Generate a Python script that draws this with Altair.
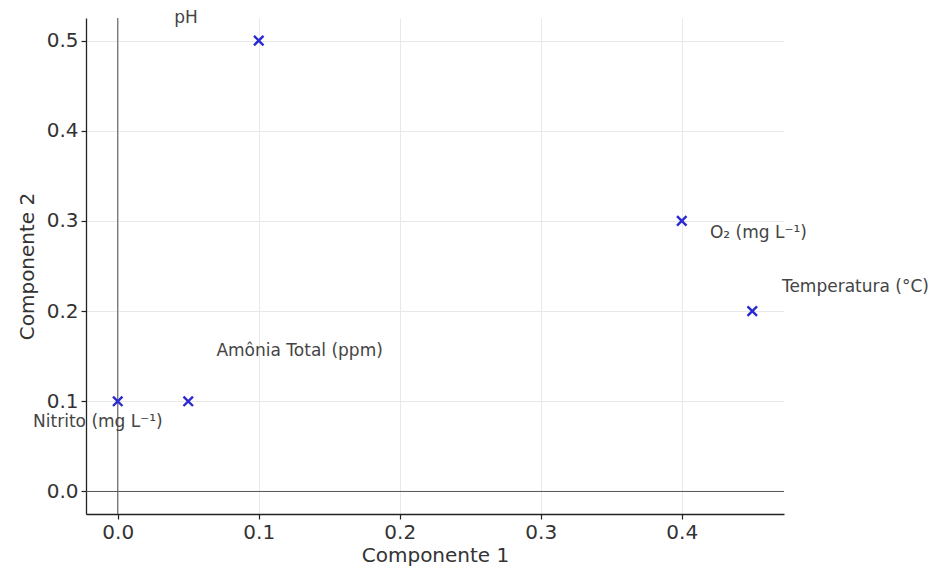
import altair as alt
import pandas as pd

variables = ["Temperatura (°C)", "O₂ (mg L⁻¹)", "pH", "Amônia Total (ppm)", "Nitrito (mg L⁻¹)"]
comp1 = [0.45, 0.40, 0.10, 0.05, 0.00]
comp2 = [0.20, 0.30, 0.50, 0.10, 0.10]
label_x = [0.471, 0.42, 0.040, 0.070, -0.060]
label_y = [0.227, 0.287, 0.5245, 0.156, 0.077]

x_ticks = [0.0, 0.1, 0.2, 0.3, 0.4]
y_ticks = [0.0, 0.1, 0.2, 0.3, 0.4, 0.5]
x_domain = [-0.0225, 0.4725]
y_domain = [-0.025, 0.525]
zero = [0.0]

df = pd.DataFrame({"var": variables, "c1": comp1, "c2": comp2, "lx": label_x, "ly": label_y})
zdf = pd.DataFrame({"z": zero})

xs = alt.Scale(domain=x_domain, nice=False, zero=False)
ys = alt.Scale(domain=y_domain, nice=False, zero=False)

xaxis = alt.Axis(values=x_ticks, format=".1f", title="Componente 1", grid=True)
yaxis = alt.Axis(values=y_ticks, format=".1f", title="Componente 2", grid=True)

points = alt.Chart(df).mark_point(
    shape="M-1,-1L1,1M-1,1L1,-1", filled=False, strokeWidth=2.4, size=90, color="#2a2ad0", opacity=1
).encode(
    x=alt.X("c1:Q", scale=xs, axis=xaxis),
    y=alt.Y("c2:Q", scale=ys, axis=yaxis),
)

labels = alt.Chart(df).mark_text(
    align="left", baseline="middle", fontSize=17, color="#444444", font="DejaVu Sans"
).encode(
    x=alt.X("lx:Q", scale=xs),
    y=alt.Y("ly:Q", scale=ys),
    text="var:N",
)

vline = alt.Chart(zdf).mark_rule(color="#555555", strokeWidth=1).encode(x=alt.X("z:Q", scale=xs))
hline = alt.Chart(zdf).mark_rule(color="#555555", strokeWidth=1).encode(y=alt.Y("z:Q", scale=ys))

chart = alt.layer(vline, hline, points, labels).properties(
    width=698, height=496,
    autosize=alt.AutoSizeParams(type="none"),
    padding={"left": 78, "top": 10, "right": 155, "bottom": 60},
).configure_view(
    stroke=None
).configure_axis(
    labelFont="DejaVu Sans", titleFont="DejaVu Sans",
    labelFontSize=20, titleFontSize=20, labelColor="#333333", titleColor="#333333",
    titleFontWeight="normal",
    domainColor="#222222", domainWidth=1.3, tickColor="#222222", tickSize=5, tickWidth=1.2,
    gridColor="#e8e8e8", gridWidth=1, labelPadding=3,
).configure_axisX(
    titlePadding=3
).configure_axisY(
    titlePadding=9
)

chart.save("out.html", embed_options={"renderer": "svg", "actions": False})
